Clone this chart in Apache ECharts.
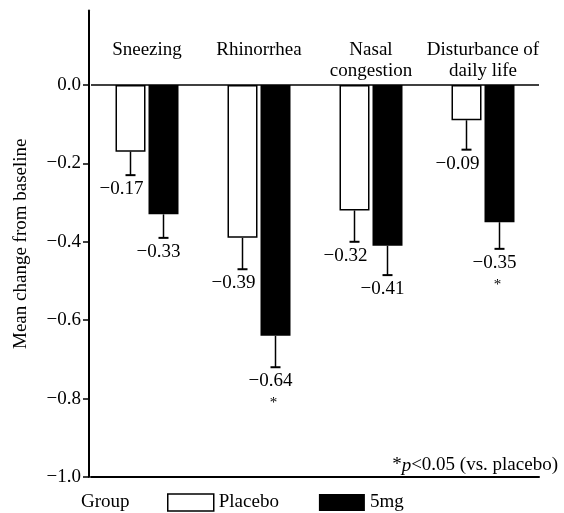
<!DOCTYPE html>
<html>
<head>
<meta charset="utf-8">
<script src="https://cdn.jsdelivr.net/npm/echarts@6/dist/echarts.min.js"></script>
<style>
  html, body { margin: 0; padding: 0; background: #fff; }
  #chart { width: 564px; height: 513px; }
</style>
</head>
<body>
<div id="chart"></div>
<script>
// Symptom categories and group results (mean change from baseline, with SE)
const categories = ['Sneezing', 'Rhinorrhea', 'Nasal\ncongestion', 'Disturbance of\ndaily life'];
const placeboMeans = [-0.17, -0.39, -0.32, -0.09];
const placeboErrors = [0.06, 0.08, 0.08, 0.075];
const doseMeans = [-0.33, -0.64, -0.41, -0.35];
const doseErrors = [0.06, 0.08, 0.075, 0.068];
const doseSignificant = [false, true, false, true];
const yTicks = [-1.0, -0.8, -0.6, -0.4, -0.2, 0.0];

const FONT = '"Liberation Serif", "Times New Roman", serif';
const FS = 19;
const BAR_W = 30;
const HALF_STEP = 16.5; // half of bar width plus gap

function fmtValue(v) {
  return '\u2212' + Math.abs(v).toFixed(2);
}
function fmtTick(v) {
  return Math.abs(v) < 1e-9 ? '0.0' : '\u2212' + Math.abs(v).toFixed(1);
}

// Downward error bar with cap, value label and optional significance mark
function errorSeries(name, means, errors, offset, labelShift, sig) {
  return {
    type: 'custom',
    name: name + ' SE',
    silent: true,
    z: 5,
    xAxisIndex: 0,
    data: means.map((m, i) => [i, m, errors[i], sig && sig[i] ? 1 : 0]),
    encode: { x: 0, y: 1 },
    renderItem(params, api) {
      const i = api.value(0), m = api.value(1), e = api.value(2);
      const top = api.coord([i, m]);
      const bot = api.coord([i, m - e]);
      const x = top[0] + offset;
      const children = [
        { type: 'line', shape: { x1: x, y1: top[1], x2: x, y2: bot[1] },
          style: { stroke: '#000', lineWidth: 1.5 } },
        { type: 'line', shape: { x1: x - 5, y1: bot[1], x2: x + 5, y2: bot[1] },
          style: { stroke: '#000', lineWidth: 2 } },
        { type: 'text', x: x + labelShift, y: bot[1] + 14,
          style: { text: fmtValue(m), font: FS + 'px ' + FONT, fill: '#000',
                   align: 'center', verticalAlign: 'middle' } }
      ];
      if (api.value(3)) {
        children.push({ type: 'text', x: x + labelShift + 3, y: bot[1] + 36,
          style: { text: '*', font: '15px ' + FONT, fill: '#000',
                   align: 'center', verticalAlign: 'middle' } });
      }
      return { type: 'group', children };
    }
  };
}

const chart = echarts.init(document.getElementById('chart'), null, { renderer: 'canvas' });

chart.setOption({
  backgroundColor: '#fff',
  animation: false,
  title: [
    { text: 'Group', left: 81, top: 493, padding: 0,
      textStyle: { fontFamily: FONT, fontSize: FS, fontWeight: 'normal', color: '#000' } },
    { text: '{n|*}{i|p}{n|<0.05 (vs. placebo)}', right: 6, top: 456, padding: 0,
      textStyle: { fontFamily: FONT, fontSize: FS, fontWeight: 'normal', color: '#000',
        rich: {
          n: { fontFamily: FONT, fontSize: FS, color: '#000' },
          i: { fontFamily: FONT, fontSize: FS, fontStyle: 'italic', color: '#000' }
        } } }
  ],
  legend: {
    left: 167, top: 493, padding: 0, itemWidth: 46, itemHeight: 17, itemGap: 40, icon: 'rect',
    textStyle: { fontFamily: FONT, fontSize: FS, color: '#000' },
    data: [
      { name: 'Placebo', itemStyle: { color: '#fff', borderColor: '#000', borderWidth: 1.5 } },
      { name: '5mg', itemStyle: { color: '#000' } }
    ]
  },
  grid: { left: 91, right: 25, top: 10.5, bottom: 36, containLabel: false },
  xAxis: [
    { type: 'category', data: categories, position: 'bottom',
      axisLine: { onZero: false, lineStyle: { color: '#000', width: 2 } },
      axisTick: { show: false }, axisLabel: { show: false } },
    { type: 'category', data: categories, position: 'top',
      axisLine: { show: false }, axisTick: { show: false },
      axisLabel: { inside: true, interval: 0, hideOverlap: false, margin: 29, color: '#000',
                   fontFamily: FONT, fontSize: FS, lineHeight: 21 } }
  ],
  yAxis: {
    type: 'value', min: -1, max: 0.19, interval: 0.2, offset: 2,
    name: 'Mean change from baseline', nameLocation: 'middle', nameGap: 58, nameRotate: 90,
    nameTextStyle: { fontFamily: FONT, fontSize: FS, color: '#000' },
    axisLine: { show: true, lineStyle: { color: '#000', width: 2 } },
    axisTick: { show: true, length: 6, customValues: yTicks,
                lineStyle: { color: '#000', width: 1.5 } },
    axisLabel: { customValues: yTicks, formatter: fmtTick, margin: 8,
                 color: '#000', fontFamily: FONT, fontSize: FS },
    splitLine: { show: false }
  },
  series: [
    { name: 'Placebo', type: 'bar', xAxisIndex: 0, barWidth: BAR_W, barGap: '10%',
      data: placeboMeans,
      itemStyle: { color: '#fff', borderColor: '#000', borderWidth: 1.5 },
      markLine: { silent: true, symbol: 'none', label: { show: false },
                  lineStyle: { color: '#000', width: 1.5, type: 'solid' },
                  data: [{ yAxis: 0 }] } },
    { name: '5mg', type: 'bar', xAxisIndex: 0, barWidth: BAR_W, barGap: '10%',
      data: doseMeans, itemStyle: { color: '#000' } },
    errorSeries('Placebo', placeboMeans, placeboErrors, -HALF_STEP, -9, null),
    errorSeries('5mg', doseMeans, doseErrors, HALF_STEP, -5, doseSignificant)
  ]
});
</script>
</body>
</html>
